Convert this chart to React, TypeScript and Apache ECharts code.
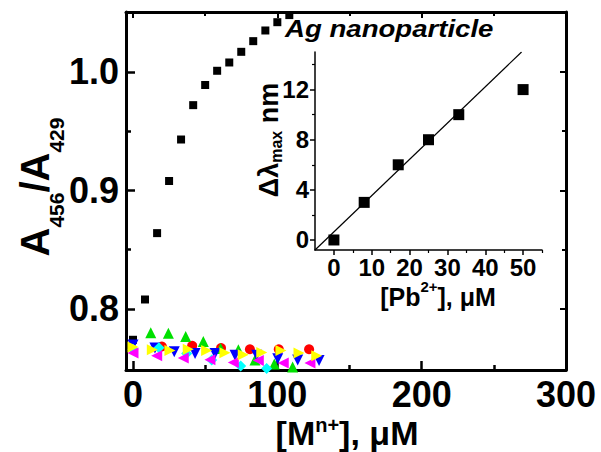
import React, { useEffect, useRef } from 'react';
import * as echarts from 'echarts';

// ---------- data ----------
const blackX = [0, 8.3, 16.7, 25, 33.3, 41.7, 50, 58.3, 66.7, 75, 83.3, 91.7, 100, 108.3];
const blackY = [0.774, 0.808, 0.864, 0.908, 0.943, 0.972, 0.989, 1.001, 1.008, 1.017, 1.026, 1.035, 1.042, 1.048];

const redX = [20, 41, 61, 81, 101, 122];
const redY = [0.7683, 0.7689, 0.767, 0.766, 0.766, 0.766];

const greenX = [12.3, 24.5, 36.5, 48.7, 60.7, 73, 84.5, 97.9, 110.6];
const greenY = [0.780, 0.7796, 0.7767, 0.7725, 0.7667, 0.7655, 0.757, 0.7535, 0.751];

const blueX = [0, 15.2, 28.6, 43, 56.8, 70.7, 85.7, 100.3, 114.1, 128.9];
const blueY = [0.7697, 0.767, 0.764, 0.7624, 0.7624, 0.761, 0.761, 0.758, 0.757, 0.7566];

const cyanX = [0, 18, 37.2, 54.5, 74.6, 92.6];
const cyanY = [0.766, 0.7672, 0.7624, 0.7569, 0.7518, 0.7498];

const magentaX = [0, 16.4, 34.8, 53.3, 69.5, 86.8, 104.1, 122.6];
const magentaY = [0.7628, 0.7605, 0.7586, 0.7571, 0.7549, 0.7566, 0.7544, 0.7544];

const yellowX = [0, 13.4, 25.6, 38.3, 51, 63.7, 76.4, 89.2, 102.5, 115, 127.3];
const yellowY = [0.768, 0.7655, 0.765, 0.766, 0.765, 0.763, 0.7613, 0.7633, 0.765, 0.7628, 0.7605];

const mainXTicks = [0, 100, 200, 300];
const mainXMinor = [50, 150, 250];
const mainYTicks = [0.8, 0.9, 1.0];
const mainYMinor = [0.85, 0.95];

const insetX = [0, 8, 17, 25, 33, 50];
const insetY = [0, 3, 6, 8, 10, 12];
const fitX = [-5, 49.6];
const fitY = [-0.8, 15];
const insetXTicks = [0, 10, 20, 30, 40, 50];
const insetXMinor = [5, 15, 25, 35, 45, 55];
const insetYTicks = [0, 4, 8, 12];
const insetYMinor = [2, 6, 10, 14];

// ---------- helpers ----------
const FONT = '"Liberation Sans", Arial, Helvetica, sans-serif';
const pts = (xs: number[], ys: number[]) => xs.map((x, i) => [x, ys[i]]);

function axis(o: {
  grid: number; pos: string; min: number; max: number; line: boolean; lineW: number;
  ticks: number[]; tickLen: number; tickW: number; inside: boolean;
  labels?: number[]; fontSize?: number; margin?: number; fmt?: (v: number) => string;
}) {
  return {
    type: 'value',
    gridIndex: o.grid,
    position: o.pos,
    min: o.min,
    max: o.max,
    axisLine: { show: o.line, onZero: false, lineStyle: { color: '#000', width: o.lineW } },
    axisTick: {
      show: true, inside: o.inside, length: o.tickLen, customValues: o.ticks,
      lineStyle: { color: '#000', width: o.tickW },
    },
    axisLabel: o.labels
      ? {
          show: true, customValues: o.labels, margin: o.margin, fontSize: o.fontSize,
          fontWeight: 'bold', color: '#000', fontFamily: FONT,
          formatter: o.fmt || ((v: number) => String(v)),
        }
      : { show: false },
    splitLine: { show: false },
  };
}

function buildOption() {
  const mX = { grid: 0, min: -4.85, max: 300 };
  const mY = { grid: 0, min: 0.7485, max: 1.0506 };
  const iX = { grid: 1, min: -5, max: 55 };
  const iY = { grid: 1, min: -0.8, max: 15 };

  const xAxis = [
    axis({ ...mX, pos: 'bottom', line: true, lineW: 3, ticks: mainXTicks, tickLen: 9, tickW: 2.5, inside: true, labels: mainXTicks, fontSize: 36, margin: 6 }),
    axis({ ...mX, pos: 'bottom', line: false, lineW: 3, ticks: mainXMinor, tickLen: 5, tickW: 2.5, inside: true }),
    axis({ ...mX, pos: 'top', line: true, lineW: 3, ticks: mainXTicks, tickLen: 6, tickW: 2, inside: true }),
    axis({ ...mX, pos: 'top', line: false, lineW: 3, ticks: mainXMinor, tickLen: 4, tickW: 2, inside: true }),
    axis({ ...iX, pos: 'bottom', line: true, lineW: 1.5, ticks: insetXTicks, tickLen: 5, tickW: 1.5, inside: false, labels: insetXTicks, fontSize: 24, margin: 5 }),
    axis({ ...iX, pos: 'bottom', line: false, lineW: 1.5, ticks: insetXMinor, tickLen: 3, tickW: 1.2, inside: false }),
  ];
  const yAxis = [
    axis({ ...mY, pos: 'left', line: true, lineW: 3, ticks: mainYTicks, tickLen: 9, tickW: 2.5, inside: true, labels: mainYTicks, fontSize: 36, margin: 7, fmt: (v: number) => v.toFixed(1) }),
    axis({ ...mY, pos: 'left', line: false, lineW: 3, ticks: mainYMinor, tickLen: 5, tickW: 2.5, inside: true }),
    axis({ ...mY, pos: 'right', line: true, lineW: 3, ticks: mainYTicks, tickLen: 6, tickW: 2, inside: true }),
    axis({ ...mY, pos: 'right', line: false, lineW: 3, ticks: mainYMinor, tickLen: 4, tickW: 2, inside: true }),
    axis({ ...iY, pos: 'left', line: true, lineW: 1.5, ticks: insetYTicks, tickLen: 5, tickW: 1.5, inside: false, labels: insetYTicks, fontSize: 24, margin: 6 }),
    axis({ ...iY, pos: 'left', line: false, lineW: 1.5, ticks: insetYMinor, tickLen: 3, tickW: 1.2, inside: false }),
  ];

  const sc = (name: string, xs: number[], ys: number[], symbol: string, color: string, size: number, rot = 0) => ({
    name, type: 'scatter', xAxisIndex: 0, yAxisIndex: 0, data: pts(xs, ys),
    symbol, symbolSize: size, symbolRotate: rot, clip: false,
    itemStyle: { color, opacity: 1 },
  });

  const big = (fs: number) => ({ fontSize: fs, fontWeight: 'bold', fontFamily: FONT, fill: '#000', verticalAlign: 'middle' });
  const small = (fs: number, padding: number[]) => ({ fontSize: fs, fontWeight: 'bold', fontFamily: FONT, fill: '#000', verticalAlign: 'middle', padding });

  return {
    animation: false,
    backgroundColor: '#fff',
    grid: [
      { left: 126, top: 12, width: 440, height: 358, containLabel: false },
      { left: 315, top: 52, width: 227, height: 198, containLabel: false },
    ],
    xAxis,
    yAxis,
    series: [
      sc('black', blackX, blackY, 'rect', '#000', 8),
      sc('red', redX, redY, 'circle', '#ff0000', 10),
      sc('green', greenX, greenY, 'triangle', '#00e000', 11),
      sc('blue', blueX, blueY, 'triangle', '#0000ff', 11, 180),
      sc('cyan', cyanX, cyanY, 'diamond', '#00ffff', 11),
      sc('magenta', magentaX, magentaY, 'triangle', '#ff00ff', 11, 90),
      sc('yellow', yellowX, yellowY, 'triangle', '#ffff00', 11, -90),
      {
        name: 'fit', type: 'line', xAxisIndex: 4, yAxisIndex: 4, data: pts(fitX, fitY),
        symbol: 'none', clip: true, lineStyle: { color: '#000', width: 1.2 },
      },
      {
        name: 'Pb', type: 'scatter', xAxisIndex: 4, yAxisIndex: 4, data: pts(insetX, insetY),
        symbol: 'rect', symbolSize: 11, clip: false, itemStyle: { color: '#000', opacity: 1 },
      },
    ],
    graphic: [
      {
        type: 'text', x: 35, y: 187, rotation: Math.PI / 2,
        style: {
          text: '{b|A}{s|456}{b|/A}{s|429}', align: 'center', verticalAlign: 'middle',
          rich: { b: big(40), s: small(21, [43, 0, 0, 0]) },
        },
      },
      {
        type: 'text', x: 347, y: 433,
        style: {
          text: '{b|[M}{s|n+}{b|], \u03bcM}', align: 'center', verticalAlign: 'middle',
          rich: { b: big(34), s: small(20, [0, 0, 17, 0]) },
        },
      },
      {
        type: 'text', x: 438, y: 297,
        style: {
          text: '{b|[Pb}{s|2+}{b|], \u03bcM}', align: 'center', verticalAlign: 'middle',
          rich: { b: big(25), s: small(15, [0, 0, 21, 0]) },
        },
      },
      {
        type: 'text', x: 269, y: 140, rotation: Math.PI / 2,
        style: {
          text: '{b|\u0394\u03bb}{s|max}{b| nm}', align: 'center', verticalAlign: 'middle',
          rich: { b: big(27), s: small(16, [14, 0, 0, 0]) },
        },
      },
      {
        type: 'text', x: 285, y: 29, scaleX: 1.2,
        style: {
          text: 'Ag nanoparticle', align: 'left', verticalAlign: 'middle',
          fontSize: 23, fontWeight: 'bold', fontStyle: 'italic', fontFamily: FONT, fill: '#000',
        },
      },
    ],
  };
}

export default function App() {
  const ref = useRef<HTMLDivElement>(null);
  useEffect(() => {
    if (!ref.current) return;
    const chart = echarts.init(ref.current, undefined, { renderer: 'svg' });
    chart.setOption(buildOption() as any);
    return () => chart.dispose();
  }, []);
  return (
    <div
      ref={ref}
      style={{ position: 'fixed', left: 0, top: 0, width: 601, height: 452, background: '#fff' }}
    />
  );
}
